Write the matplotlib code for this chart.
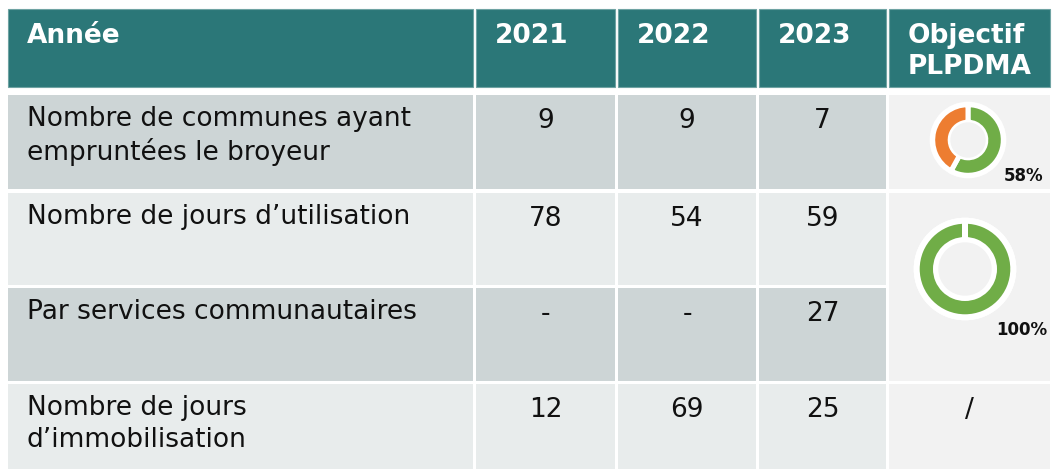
import matplotlib.pyplot as plt
from matplotlib.patches import Rectangle, Circle

# table content
years = ['2021', '2022', '2023']
header_first = 'Année'
header_last = 'Objectif\nPLPDMA'
row_labels = ['Nombre de communes ayant\nempruntées le broyeur',
              'Nombre de jours d’utilisation',
              'Par services communautaires',
              'Nombre de jours\nd’immobilisation']
values_2021 = ['9', '78', '-', '12']
values_2022 = ['9', '54', '-', '69']
values_2023 = ['7', '59', '27', '25']
objective_pct = [58, 100]
objective_last = '/'

W, H = 1053, 471
TEAL = '#2b7778'
DARK = '#cdd5d6'
LIGHT = '#e8ecec'
OBJ = '#f2f2f2'
GREEN = '#70ad47'
ORANGE = '#ed7d31'
FS = 19

# layout in pixels
cols = [(8, 473), (476, 615), (618, 756), (759, 886), (889, 1050)]
header = (9, 87)
rows = [(95, 189), (193, 285), (288, 381), (384, 469)]
row_colors = [DARK, LIGHT, DARK, LIGHT]

fig = plt.figure(figsize=(W / 100, H / 100), dpi=100)
ax = fig.add_axes([0, 0, 1, 1])
ax.set_xlim(0, W)
ax.set_ylim(H, 0)
ax.axis('off')


def cell(x0, x1, y0, y1, color, **kw):
    ax.add_patch(Rectangle((x0, y0), x1 - x0, y1 - y0, facecolor=color, **kw))


# header
for (x0, x1), txt in zip(cols, [header_first] + years + [header_last]):
    cell(x0, x1, header[0], header[1], TEAL, edgecolor='#6fa3a3', linewidth=0.8)
    ax.text(x0 + 19, header[0] + 14, txt, color='white', fontsize=FS, fontweight='bold',
            ha='left', va='top', linespacing=1.25)

# body
columns = [values_2021, values_2022, values_2023]
for i, (y0, y1) in enumerate(rows):
    cell(cols[0][0], cols[0][1], y0, y1, row_colors[i])
    ax.text(cols[0][0] + 19, y0 + 11, row_labels[i], fontsize=FS, ha='left', va='top',
            linespacing=1.28, color='#111111')
    for (x0, x1), vals in zip(cols[1:4], columns):
        cell(x0, x1, y0, y1, row_colors[i])
        ax.text((x0 + x1) / 2, y0 + 13, vals[i], fontsize=FS, ha='center', va='top',
                color='#111111')

# objective column
ox0, ox1 = cols[4]
cell(ox0, ox1, rows[0][0], rows[0][1], OBJ)
cell(ox0, ox1, rows[1][0], rows[2][1], OBJ)
cell(ox0, ox1, rows[3][0], rows[3][1], OBJ)
ax.text((ox0 + ox1) / 2, rows[3][0] + 13, objective_last, fontsize=FS, ha='center', va='top',
        color='#111111')

# donuts: center, white disc, ring outer, ring inner, gray disc, gap px, label pos
donuts = [((968, 140), 38.3, 32.8, 20.3, 17.7, 5, (1024, 176)),
          ((965, 269), 51.3, 45.3, 32.0, 26.7, 6, (1022, 330))]
for pct, (c, rw, ro, ri, rg, gap, lab) in zip(objective_pct, donuts):
    S = rw + 2
    dax = fig.add_axes([(c[0] - S) / W, 1 - (c[1] + S) / H, 2 * S / W, 2 * S / H])
    dax.add_patch(Circle((0, 0), rw, facecolor='white', zorder=1))
    wedges, _ = dax.pie([pct, 100 - pct], colors=[GREEN, ORANGE], startangle=90,
                        counterclock=False, radius=ro + gap / 2,
                        wedgeprops=dict(width=(ro - ri) + gap, edgecolor='white',
                                        linewidth=gap * 0.72))
    for w in wedges:
        w.set_zorder(3)
    dax.add_patch(Circle((0, 0), rg, facecolor=OBJ, zorder=4))
    dax.set_xlim(-S, S)
    dax.set_ylim(-S, S)
    dax.set_aspect('equal')
    dax.axis('off')
    ax.text(lab[0], lab[1], f'{pct}%', fontsize=12, fontweight='bold', ha='center',
            va='center', color='#111111')

fig.savefig('out.png', dpi=100)
